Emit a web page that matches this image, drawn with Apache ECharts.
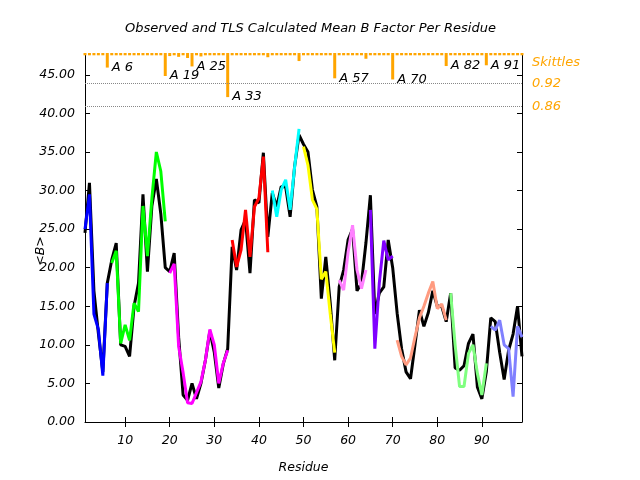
<!DOCTYPE html>
<html><head><meta charset="utf-8">
<script src="https://cdn.jsdelivr.net/npm/echarts@6/dist/echarts.min.js"></script>
<style>html,body{margin:0;padding:0;background:#fff}#c{width:640px;height:480px}</style>
</head><body><div id="c"></div>
<script>
// ---- data ----
const residues = [1,2,3,4,5,6,7,8,9,10,11,12,13,14,15,16,17,18,19,20,21,22,23,24,25,26,27,28,29,30,31,32,33,34,35,36,37,38,39,40,41,42,43,44,45,46,47,48,49,50,51,52,53,54,55,56,57,58,59,60,61,62,63,64,65,66,67,68,69,70,71,72,73,74,75,76,77,78,79,80,81,82,83,84,85,86,87,88,89,90,91,92,93,94,95,96,97,98,99];
const observed = [24.5,31,17,11.5,6.5,18,21,23.2,10,9.8,8.5,15,18,29.5,19.5,28,31.5,27,20,19.5,21.9,11,3.5,2.8,5,3,5,8,11.8,9,4.4,7.5,9.5,22.7,19.7,24.9,26.2,19.3,28.8,28.4,34.9,24,29.7,27.9,30.5,30.5,26.6,33.1,37.2,36,35,30.1,27.9,16,21.4,15.4,8,17.5,19.7,23.6,25,17,18,23.2,29.4,14,16.7,17.5,23.6,20,14.1,9.5,6.5,5.6,10,14.5,12.4,14.2,17,15,15,13,16.7,7,6.7,7.3,10.2,11.4,4.5,3,6.5,13.5,13,9,5.5,9.3,11.4,15,8.5];
const tlsCalc = [25,29.5,14,12,6,18,20.6,22.2,10.2,12.6,10.6,15.4,14.3,28,21.5,29,35,32.5,26,19.3,20.5,9.8,6.4,2.5,2.4,3.8,5.2,8,12,10,5,7.6,9.3,23.6,20.1,22.3,27.5,21.4,27.9,29,34.4,22,30,26.6,30.1,31.4,27.5,33,38,35.7,33.3,28.8,27.6,18.5,19.5,14,9,18.4,17.1,22,25.5,19.7,17.3,19.7,27.5,9.5,18,23.5,21,21.5,10.6,8.5,7.4,8.3,11,13.5,15,16.7,18.2,14.7,15.3,13.2,16.7,10,4.6,4.6,8.9,10,6.3,3.5,7.6,12.4,11.9,13.2,10,9.5,3.3,12.4,11];
const segStart = [1,7,20,34,43,50,58,65,71,83,92];
const segEnd   = [6,19,33,42,49,57,64,70,82,91,99];
const segColors = ['#0000ff','#00ff00','#ff00ff','#ff0000','#00ffff','#ffff00','#ff80ff','#8000ff','#ff9b80','#80ff80','#8080ff'];
const skittles = [0.994,0.994,0.994,0.994,0.994,0.962,0.994,0.994,0.994,0.994,0.994,0.994,0.994,0.994,0.994,0.994,0.994,0.994,0.940,0.992,0.994,0.990,0.994,0.987,0.965,0.994,0.991,0.994,0.994,0.994,0.994,0.994,0.885,0.994,0.994,0.994,0.994,0.994,0.994,0.994,0.994,0.989,0.994,0.994,0.994,0.994,0.994,0.994,0.979,0.994,0.994,0.994,0.994,0.994,0.994,0.994,0.934,0.994,0.994,0.994,0.994,0.994,0.994,0.985,0.994,0.994,0.994,0.994,0.994,0.931,0.994,0.994,0.994,0.994,0.994,0.994,0.994,0.994,0.994,0.994,0.994,0.966,0.994,0.994,0.994,0.994,0.994,0.994,0.994,0.994,0.968,0.994,0.994,0.994,0.994,0.994,0.994,0.994,0.994];
const skittleLabels = [6,19,25,33,57,70,82,91];
const chainId = 'A';
const skittleTicks = [0.92, 0.86];
const xTicks = [10,20,30,40,50,60,70,80,90];
const yTicks = [0,5,10,15,20,25,30,35,40,45];

// ---- chart ----
const FONT = 'DejaVu Sans';
const ORANGE = '#ffa500';
const txt = (size, color) => ({fontFamily: FONT, fontStyle: 'italic', fontSize: size, color: color || '#000'});

const series = [];
series.push({
  type: 'line', xAxisIndex: 0, yAxisIndex: 0, showSymbol: false, symbol: 'none',
  lineStyle: {color: '#000', width: 3}, itemStyle: {color: '#000'}, z: 2,
  data: residues.map((r, i) => [r, observed[i]])
});
segStart.forEach((s, k) => {
  const d = [];
  residues.forEach((r, i) => { if (r >= s && r <= segEnd[k]) d.push([r, tlsCalc[i]]); });
  series.push({
    type: 'line', xAxisIndex: 0, yAxisIndex: 0, showSymbol: false, symbol: 'none',
    lineStyle: {color: segColors[k], width: 3}, itemStyle: {color: segColors[k]}, z: 3,
    data: d
  });
});
series.push({
  type: 'bar', xAxisIndex: 2, yAxisIndex: 2, barWidth: 3, z: 4,
  itemStyle: {color: ORANGE},
  data: residues.map((r, i) => {
    const item = {value: [r, 1 - skittles[i]]};
    if (skittleLabels.indexOf(r) >= 0) {
      item.label = Object.assign({show: true, position: [6, '100%'], verticalAlign: 'middle', align: 'left',
        formatter: chainId + ' ' + r}, txt(13));
    }
    return item;
  }),
  markLine: {
    silent: true, symbol: ['none', 'none'],
    lineStyle: {type: 'dotted', color: '#888', width: 1},
    label: Object.assign({position: 'end', distance: 10, formatter: p => p.name}, txt(13, ORANGE)),
    data: skittleTicks.map(t => ({yAxis: 1 - t, name: t.toFixed(2)}))
  }
});

const chart = echarts.init(document.getElementById('c'), null, {renderer: 'canvas'});
chart.setOption({
  animation: false,
  backgroundColor: '#fff',
  title: [
    {text: 'Observed and TLS Calculated Mean B Factor Per Residue', left: 120, top: 17,
     textStyle: Object.assign(txt(13), {fontWeight: 'normal'})},
    {text: 'Skittles', left: 527, top: 51, textStyle: Object.assign(txt(13, ORANGE), {fontWeight: 'normal'})}
  ],
  grid: [
    {left: 85, right: 118, top: 54, bottom: 58},
    {left: 85, right: 118, top: 53, height: 76.7}
  ],
  xAxis: [
    {type: 'value', gridIndex: 0, min: 1, max: 99, position: 'bottom',
     axisLine: {lineStyle: {color: '#000', width: 1}},
     axisTick: {inside: true, length: 5, customValues: xTicks, lineStyle: {color: '#000'}},
     axisLabel: Object.assign({customValues: xTicks, margin: 12}, txt(12.5)),
     splitLine: {show: false},
     name: 'Residue', nameLocation: 'middle', nameGap: 39, nameMoveOverlap: false, nameTextStyle: txt(12.5)},
    {type: 'value', gridIndex: 0, min: 1, max: 99, position: 'top',
     axisLine: {show: false},
     axisTick: {inside: true, length: 5, customValues: xTicks, lineStyle: {color: '#000'}},
     axisLabel: {show: false}, splitLine: {show: false}},
    {type: 'value', gridIndex: 1, min: 1, max: 99, show: false}
  ],
  yAxis: [
    {type: 'value', gridIndex: 0, min: 0, max: 47.7, position: 'left',
     axisLine: {show: true, lineStyle: {color: '#000', width: 1}},
     axisTick: {show: true, inside: true, length: 5, customValues: yTicks, lineStyle: {color: '#000'}},
     axisLabel: Object.assign({customValues: yTicks, margin: 10, formatter: v => v.toFixed(2)}, txt(12.5)),
     splitLine: {show: false},
     name: '<B>', nameLocation: 'middle', nameGap: 38, nameMoveOverlap: false,
     nameTextStyle: Object.assign({padding: [0, 26, 0, 0]}, txt(12.5))},
    {type: 'value', gridIndex: 0, min: 0, max: 47.7, position: 'right',
     axisLine: {show: true, lineStyle: {color: '#000', width: 1}},
     axisTick: {show: true, inside: true, length: 5, customValues: yTicks, lineStyle: {color: '#000'}},
     axisLabel: {show: false}, splitLine: {show: false}},
    {type: 'value', gridIndex: 1, min: 0, max: 0.2, inverse: true, show: false}
  ],
  series: series
});
</script>
</body></html>
